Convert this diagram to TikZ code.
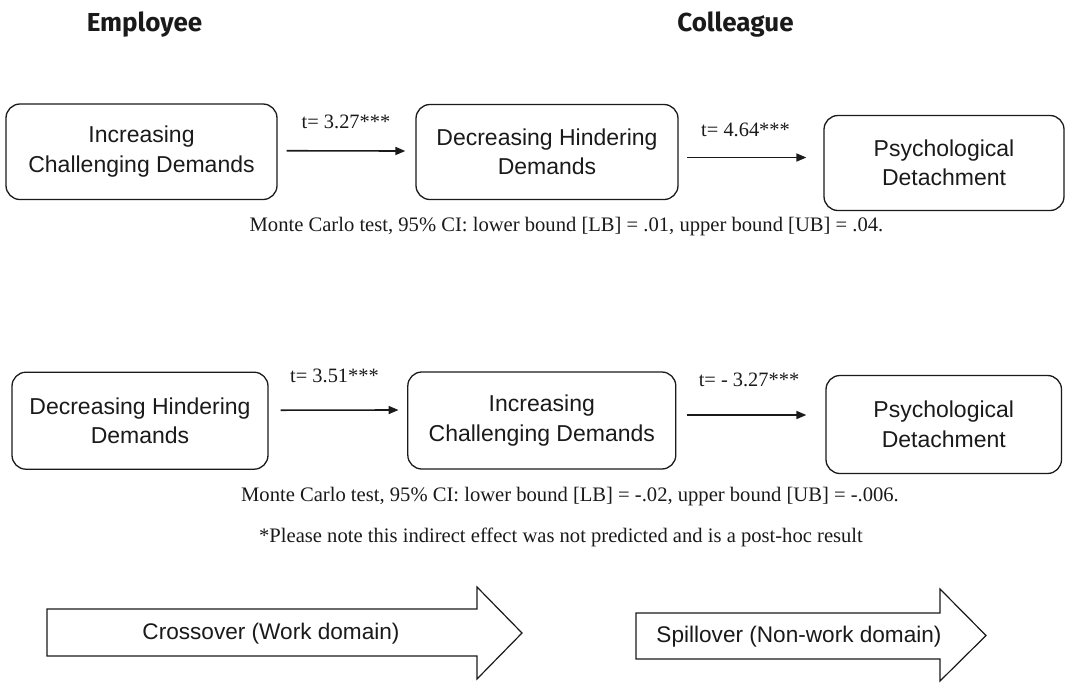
\documentclass[tikz,border=0pt]{standalone}
\usepackage{fontspec}
\setmainfont{Liberation Serif}
\setsansfont{Liberation Sans}
\newfontfamily\boxfont{Liberation Sans}
\newfontfamily\headfont{Fira Sans Bold}
\usetikzlibrary{arrows.meta,calc}
\definecolor{ink}{HTML}{1A1A1A}
\begin{document}
\begin{tikzpicture}[x=1pt,y=-1pt,
  box/.style={draw=ink, rounded corners=14pt, line width=1.3pt, align=center,
    text=ink, font=\boxfont\fontsize{23}{29.5}\selectfont, inner sep=0pt},
  head/.style={text=ink, anchor=base, font=\headfont\fontsize{26}{30}\selectfont},
  tlab/.style={text=ink, anchor=base, font=\rmfamily\fontsize{20.4}{24}\selectfont},
  note/.style={text=ink, anchor=base, font=\rmfamily\fontsize{20.6}{24}\selectfont},
  conn/.style={draw=ink, line width=1.6pt, -{Triangle[length=10pt,width=8pt]}},
  bigarrow/.style={draw=ink, line width=1.2pt, fill=white, line join=miter},
  btxt/.style={text=ink, font=\boxfont\fontsize{22.6}{27}\selectfont}
]
\useasboundingbox (0,0) rectangle (1067,686);

% headings
\node[head] (emp) at (144.5,31) {Employee};
\node[head] (col) at (735.5,31) {Colleague};

% row 1
\node[box, minimum width=271, minimum height=95.5] (a1) at (141.5,151.75) {Increasing\\Challenging Demands};
\node[box, minimum width=262, minimum height=95] (a2) at (547,152) {Decreasing Hindering\\Demands};
\node[box, minimum width=240, minimum height=95] (a3) at (944,163) {Psychological\\Detachment};
\draw[conn] ([xshift=9pt,yshift=1pt]a1.east) -- ([xshift=-10pt,yshift=1pt]a2.west);
\draw[conn] ([xshift=8.5pt,yshift=-5.5pt]a2.east) -- ([xshift=-17pt,yshift=5.5pt]a3.west);
\node[tlab] (l1) at (346,128) {t= 3.27***};
\node[tlab] (l2) at (745.5,136) {t= 4.64***};
\node[note] (c1) at (566.5,231) {Monte Carlo test, 95\% CI: lower bound [LB] = .01, upper bound [UB] = .04.};

% row 2
\node[box, minimum width=256, minimum height=97] (b1) at (140,420.7) {Decreasing Hindering\\Demands};
\node[box, minimum width=268, minimum height=97] (b2) at (541.8,420.5) {Increasing\\Challenging Demands};
\node[box, minimum width=235.5, minimum height=98] (b3) at (943.75,424.5) {Psychological\\Detachment};
\draw[conn] ([xshift=12pt,yshift=10.5pt]b1.east) -- ([xshift=-8.6pt,yshift=10.5pt]b2.west);
\draw[conn] ([xshift=10.5pt,yshift=5.5pt]b2.east) -- ([xshift=-19pt,yshift=9.5pt]b3.west);
\node[tlab] (l3) at (334.5,382.5) {t= 3.51***};
\node[tlab] (l4) at (749,386) {t= - 3.27***};
\node[note] (c2) at (570,501) {Monte Carlo test, 95\% CI: lower bound [LB] = -.02, upper bound [UB] = -.006.};
\node[note] (c3) at (561,542) {*Please note this indirect effect was not predicted and is a post-hoc result};

% bottom block arrows
\draw[bigarrow] (47,609) -- (477,609) -- (477,587) -- (522,633) -- (477,679) -- (477,656) -- (47,656) -- cycle;
\node[btxt] (x1) at (271,634) {Crossover (Work domain)};
\draw[bigarrow] (636,613) -- (940,613) -- (940,589) -- (986,635.5) -- (940,681) -- (940,659) -- (636,659) -- cycle;
\node[btxt] (x2) at (799,637) {Spillover (Non-work domain)};
\end{tikzpicture}
\end{document}
